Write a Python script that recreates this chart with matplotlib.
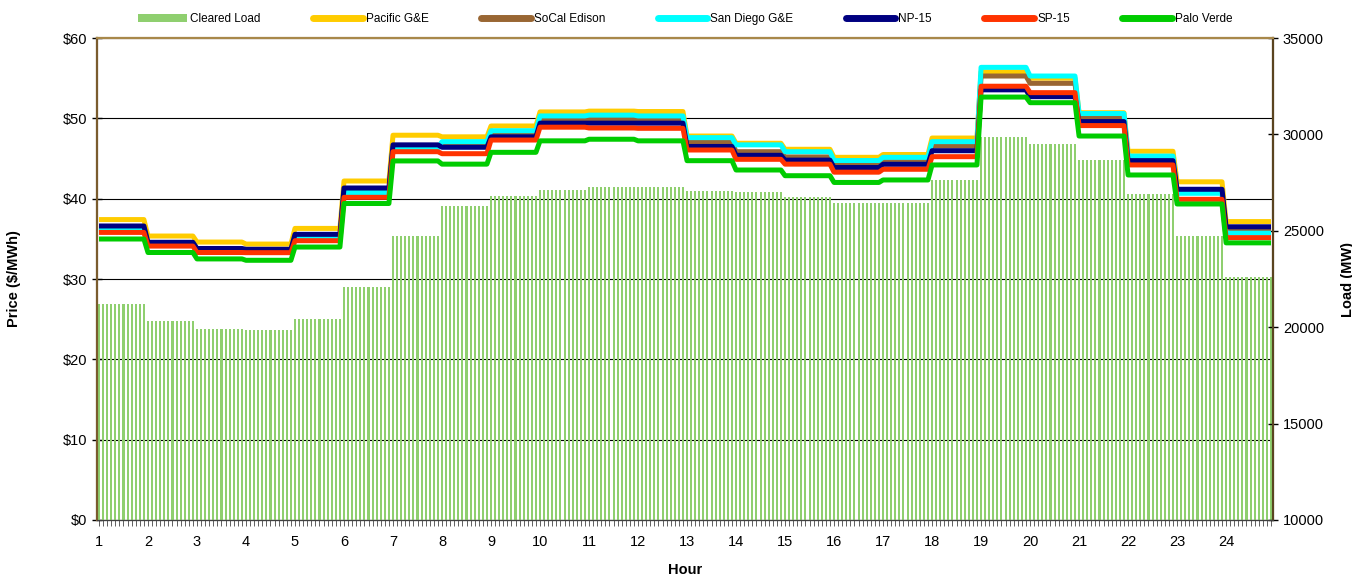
import numpy as np
import matplotlib
matplotlib.use("Agg")
import matplotlib.pyplot as plt
from matplotlib.patches import Patch
from matplotlib.lines import Line2D

plt.rcParams['font.family'] = ['Liberation Sans', 'DejaVu Sans']

hours = [str(h) for h in range(1, 25)]
intervals_per_hour = 12

cleared_load = [21200, 20320, 19900, 19850, 20430, 22090, 24730, 26290, 26800, 27100,
                27270, 27270, 27060, 27000, 26750, 26440, 26440, 27630, 29860, 29500,
                28670, 26910, 24730, 22600]

pacific_ge = [37.4, 35.35, 34.6, 34.35, 36.3, 42.2, 47.9, 47.7, 49.05, 50.8, 50.9, 50.85,
              47.8, 46.9, 46.15, 45.15, 45.5, 47.55, 55.8, 55.0, 50.7, 45.9, 42.1, 37.15]
socal_edison = [36.3, 34.4, 33.7, 33.6, 35.2, 40.9, 46.4, 46.8, 48.05, 49.9, 49.9, 49.8,
                47.0, 45.85, 45.2, 44.3, 44.6, 46.56, 55.27, 54.36, 50.08, 45.0, 40.8, 36.0]
san_diego_ge = [36.1, 34.3, 33.6, 33.5, 35.07, 40.75, 46.3, 47.1, 48.46, 50.3, 50.4, 50.3,
                47.6, 46.7, 45.85, 44.75, 45.15, 47.1, 56.35, 55.27, 50.6, 45.3, 40.67, 35.7]
np15 = [36.6, 34.57, 33.8, 33.7, 35.56, 41.33, 46.7, 46.4, 47.7, 49.4, 49.4, 49.4,
        46.5, 45.4, 44.8, 43.88, 44.28, 45.97, 53.55, 52.7, 49.6, 44.73, 41.17, 36.5]
sp15 = [35.8, 34.1, 33.3, 33.28, 34.77, 40.17, 45.85, 45.6, 47.3, 48.9, 48.8, 48.76,
        46.06, 44.9, 44.3, 43.3, 43.66, 45.23, 54.0, 53.2, 49.1, 44.2, 39.92, 35.15]
palo_verde = [34.98, 33.3, 32.5, 32.33, 33.98, 39.4, 44.7, 44.3, 45.77, 47.2, 47.4, 47.2,
              44.73, 43.57, 42.86, 42.02, 42.33, 44.2, 52.65, 51.95, 47.8, 42.95, 39.34, 34.5]

series = [
    ("Pacific G&E", pacific_ge, "#FFCC00"),
    ("SoCal Edison", socal_edison, "#996633"),
    ("San Diego G&E", san_diego_ge, "#00FFFF"),
    ("NP-15", np15, "#000080"),
    ("SP-15", sp15, "#FF3300"),
    ("Palo Verde", palo_verde, "#00CC00"),
]

n = len(hours) * intervals_per_hour
x = np.arange(n)

fig = plt.figure(figsize=(13.52, 5.77), dpi=100)
ax = fig.add_axes([0.0717, 0.0988, 0.8699, 0.8353])
ax2 = ax.twinx()
ax3 = ax.twinx()

# price axis (background, grid)
ax.set_xlim(-0.5, n - 0.5)
ax.set_ylim(0, 60)
ax.set_yticks(np.arange(0, 61, 10))
ax.set_yticklabels([f"${v}" for v in range(0, 61, 10)], fontsize=10.5)
ax.yaxis.grid(True, color='black', linewidth=0.8)
ax.set_axisbelow(True)
ax.tick_params(axis='y', direction='inout', length=7, width=1, color='black')
ax.set_xticks(x)
ax.set_xticklabels([hours[i // intervals_per_hour] if i % intervals_per_hour == 0 else ''
                    for i in x], fontsize=10.5)
ax.tick_params(axis='x', direction='out', length=4, width=0.7, color='#606060', pad=7)
ax.set_ylabel("Price ($/MWh)", fontsize=10.5, fontweight='bold', labelpad=30)
ax.set_xlabel("Hour", fontsize=10.5, fontweight='bold', labelpad=10)

# load bars
ax2.bar(x, np.repeat(cleared_load, intervals_per_hour), width=0.5,
        color='#8FCF6F', linewidth=0, antialiased=False)
ax2.set_ylim(10000, 35000)
ax2.set_yticks(np.arange(10000, 35001, 5000))
ax2.tick_params(axis='y', direction='inout', length=7, width=1, labelsize=10.5)
ax2.set_ylabel("Load (MW)", fontsize=10.5, fontweight='bold', labelpad=12)

# price lines
for name, vals, col in series:
    ax3.plot(x, np.repeat(vals, intervals_per_hour), color=col, linewidth=3.6,
             solid_joinstyle='round', solid_capstyle='butt')
ax3.set_ylim(0, 60)
ax3.set_xlim(-0.5, n - 0.5)
ax3.set_yticks([])

for a in (ax, ax2, ax3):
    a.spines['top'].set_color('#A8884A')
    a.spines['top'].set_linewidth(1.5)
    a.spines['left'].set_color('#7A5C2E')
    a.spines['left'].set_linewidth(1.5)
    a.spines['right'].set_color('#5A4420')
    a.spines['right'].set_linewidth(1.5)
    a.spines['bottom'].set_color('#404040')

handles = [Patch(facecolor='#8FCF6F', edgecolor='none', label='Cleared Load')]
handles += [Line2D([], [], color=c, linewidth=5, solid_capstyle='round', label=nm)
            for nm, _, c in series]
fig.legend(handles=handles, loc='center', bbox_to_anchor=(0.5067, 0.967), ncol=7,
           frameon=False, fontsize=8.5, handlelength=4.2, handleheight=0.6,
           handletextpad=0.25, columnspacing=4.45)

fig.savefig("out.png", dpi=100)
